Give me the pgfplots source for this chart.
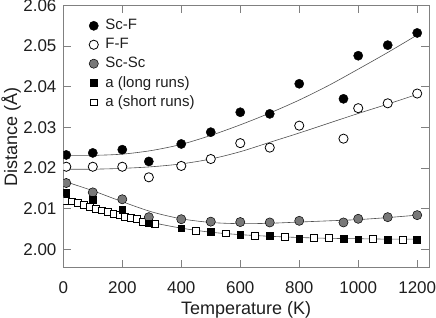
\documentclass[border=0pt]{standalone}
\usepackage{fontspec}
\setmainfont{Liberation Sans}
\usepackage{pgfplots}
\pgfplotsset{compat=1.18}
\definecolor{axgray}{RGB}{128,128,128}
\definecolor{fitgray}{RGB}{80,80,80}
\definecolor{txt}{RGB}{30,30,30}
\definecolor{scsc}{RGB}{120,120,120}
\begin{document}
\fontsize{17}{20}\selectfont
\begin{tikzpicture}
\useasboundingbox (-63.3pt,-50pt) rectangle (372.7pt,268pt);
\begin{axis}[
  at={(0pt,0pt)}, anchor=south west, scale only axis,
  width=365.7pt, height=262.7pt,
  xmin=0, xmax=1240, ymin=1.9954, ymax=2.06,
  xtick={0,200,400,600,800,1000,1200},
  ytick={2.00,2.01,2.02,2.03,2.04,2.05,2.06},
  /pgf/number format/assume math mode=true,
  yticklabel style={/pgf/number format/fixed, /pgf/number format/fixed zerofill, /pgf/number format/precision=2, xshift=-1pt},
  xticklabel style={/pgf/number format/1000 sep={}, yshift=-8pt},
  tick align=inside, major tick length=8pt,
  axis line style={axgray, line width=1pt},
  every tick/.style={axgray, line width=0.8pt},
  tick label style={font=\fontsize{17}{20}\selectfont, text=txt},
  label style={font=\fontsize{18}{21}\selectfont, text=txt},
  xlabel={Temperature (K)},
  ylabel={Distance (Å)},
  xlabel style={yshift=4pt},
  ylabel style={yshift=-9pt},
  clip marker paths=true,
  legend cell align=left,
  legend style={at={(0.062,0.9627)}, anchor=north west, draw=none, fill=none,
    font=\fontsize{15}{18}\selectfont, text=txt, row sep=2pt,
    /tikz/every odd column/.append style={column sep=5pt}},
]
% fitted curves
\addplot[fitgray, line width=0.6pt, smooth, forget plot] coordinates {
(0,2.0231)(100,2.0231)(200,2.0234)(300,2.0243)(400,2.0258)(500,2.0280)(600,2.0306)
(700,2.0335)(800,2.0367)(900,2.0403)(1000,2.0443)(1100,2.0484)(1200,2.0527)};
\addplot[fitgray, line width=0.6pt, smooth, forget plot] coordinates {
(0,2.0197)(100,2.0197)(200,2.0199)(300,2.0203)(400,2.0210)(500,2.0222)(600,2.0240)
(700,2.0263)(800,2.0286)(900,2.0310)(1000,2.0334)(1100,2.0357)(1200,2.0381)};
\addplot[fitgray, line width=0.6pt, smooth, forget plot] coordinates {
(0,2.0168)(100,2.0144)(200,2.0117)(300,2.0092)(400,2.0075)(500,2.0066)(600,2.0063)
(700,2.0064)(800,2.0067)(900,2.0070)(1000,2.0073)(1100,2.0078)(1200,2.0084)};
\addplot[fitgray, line width=0.6pt, smooth, forget plot] coordinates {
(0,2.0124)(100,2.0103)(200,2.0083)(300,2.0066)(400,2.0052)(500,2.0042)(600,2.0036)
(700,2.0032)(800,2.0029)(900,2.0027)(1000,2.0026)(1100,2.0025)(1200,2.0025)};
% a (short runs) drawn first, behind
\addplot[only marks, mark=square*, mark size=3.4pt, mark options={fill=white, draw=black, line width=0.7pt}, forget plot] coordinates {
(10,2.0120)(30,2.0118)(50,2.0114)(70,2.0110)(90,2.0105)(110,2.0100)(130,2.0096)
(150,2.0092)(170,2.0088)(190,2.0084)(210,2.0080)(230,2.0077)(250,2.0074)(270,2.0068)
(290,2.0065)(310,2.0062)(450,2.0046)(550,2.0039)(650,2.0034)(750,2.0031)(850,2.0029)
(900,2.0029)(1050,2.0025)(1100,2.0023)(1150,2.0023)(1200,2.0023)};
% Sc-F
\addplot[only marks, mark=*, mark size=4.6pt, mark options={fill=black, draw=black}] coordinates {
(10,2.0232)(100,2.0237)(200,2.0245)(290,2.0216)(400,2.0259)(500,2.0288)(600,2.0337)
(700,2.0333)(800,2.0407)(950,2.0370)(1000,2.0476)(1100,2.0502)(1200,2.0532)};
\addlegendentry{Sc-F}
% F-F
\addplot[only marks, mark=*, mark size=4.6pt, mark options={fill=white, draw=black, line width=0.8pt}] coordinates {
(10,2.0203)(100,2.0203)(200,2.0203)(290,2.0177)(400,2.0205)(500,2.0222)(600,2.0261)
(700,2.0250)(800,2.0304)(950,2.0272)(1000,2.0347)(1100,2.0359)(1200,2.0383)};
\addlegendentry{F-F}
% Sc-Sc
\addplot[only marks, mark=*, mark size=4.6pt, mark options={fill=scsc, draw=black, line width=0.5pt}] coordinates {
(10,2.0163)(100,2.0140)(200,2.0123)(290,2.0079)(400,2.0074)(500,2.0068)(600,2.0067)
(700,2.0066)(800,2.0070)(950,2.0066)(1000,2.0075)(1100,2.0079)(1200,2.0084)};
\addlegendentry{Sc-Sc}
% a (long runs)
\addplot[only marks, mark=square*, mark size=3.4pt, mark options={fill=black, draw=black}] coordinates {
(10,2.0139)(100,2.0121)(200,2.0098)(290,2.0064)(400,2.0052)(500,2.0043)(600,2.0035)
(700,2.0033)(800,2.0027)(950,2.0027)(1000,2.0025)(1100,2.0025)(1200,2.0025)};
\addlegendentry{a (long runs)}
\addlegendimage{only marks, mark=square*, mark size=3.4pt, mark options={fill=white, draw=black, line width=0.7pt}}
\addlegendentry{a (short runs)}
\end{axis}
\end{tikzpicture}
\end{document}
